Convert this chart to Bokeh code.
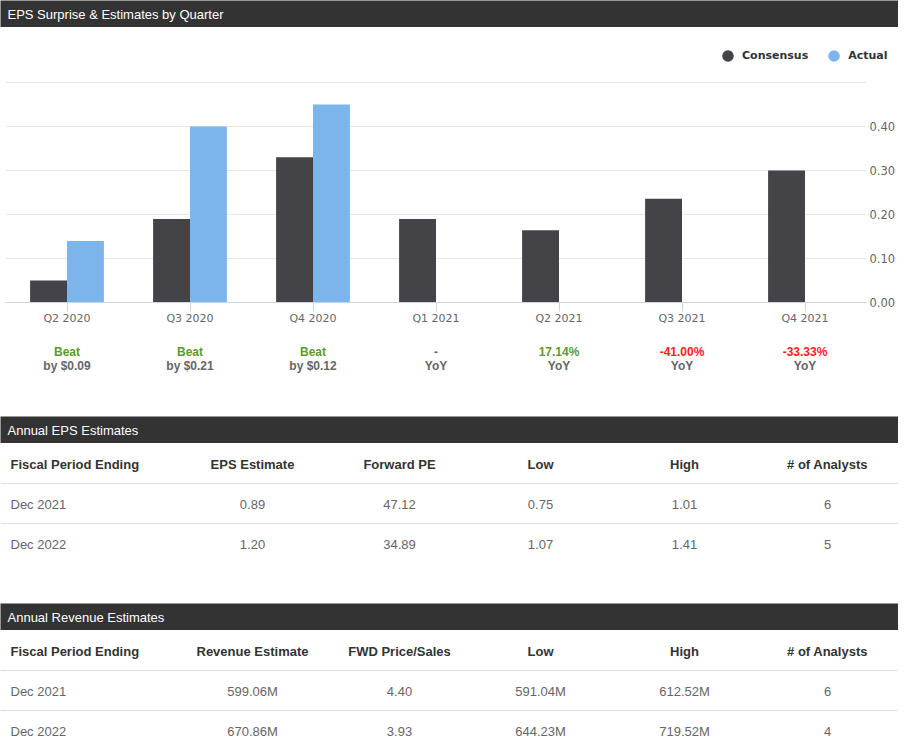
import math
from bokeh.plotting import figure
from bokeh.layouts import column
from bokeh.models import (ColumnDataSource, FactorRange, Range1d, FixedTicker,
                          NumeralTickFormatter, Legend, LegendItem)
from bokeh.transform import dodge
from bokeh.core.properties import value
from bokeh.embed import file_html
from bokeh.resources import INLINE

# ---------------- data ----------------
quarters = ["Q2 2020", "Q3 2020", "Q4 2020", "Q1 2021", "Q2 2021", "Q3 2021", "Q4 2021"]
consensus = [0.05, 0.19, 0.33, 0.19, 0.164, 0.236, 0.30]
actual = [0.14, 0.40, 0.45, float("nan"), float("nan"), float("nan"), float("nan")]
series_names = ["Consensus", "Actual"]
surprise_top = ["Beat", "Beat", "Beat", "-", "17.14%", "-41.00%", "-33.33%"]
surprise_bottom = ["by $0.09", "by $0.21", "by $0.12", "YoY", "YoY", "YoY", "YoY"]
y_ticks = [0.0, 0.1, 0.2, 0.3, 0.4]
grid_ticks = [0.1, 0.2, 0.3, 0.4, 0.5]

eps_columns = ["Fiscal Period Ending", "EPS Estimate", "Forward PE", "Low", "High", "# of Analysts"]
eps_periods = ["Dec 2021", "Dec 2022"]
eps_estimate = [0.89, 1.20]
eps_forward_pe = [47.12, 34.89]
eps_low = [0.75, 1.07]
eps_high = [1.01, 1.41]
eps_analysts = [6, 5]

rev_columns = ["Fiscal Period Ending", "Revenue Estimate", "FWD Price/Sales", "Low", "High", "# of Analysts"]
rev_periods = ["Dec 2021", "Dec 2022"]
rev_estimate = [599.06, 670.86]
rev_price_sales = [4.40, 3.93]
rev_low = [591.04, 644.23]
rev_high = [612.52, 719.52]
rev_analysts = [6, 4]

# ---------------- styling ----------------
W = 898
HEAD_BG = "#333333"
FONT_AX = "DejaVu Sans"
FONT_TXT = "Liberation Sans"
C_CONS = "#434348"
C_ACT = "#7cb5ec"
GREEN = "#5c9b29"
RED = "#ff1a1a"
GRAY = "#666666"


def header(title):
    h = figure(width=W, height=27, x_range=Range1d(0, W), y_range=Range1d(27, 0),
               toolbar_location=None, output_backend="svg",
               x_axis_location=None, y_axis_location=None,
               min_border=0, outline_line_color=None,
               background_fill_color=HEAD_BG, border_fill_color=HEAD_BG)
    h.grid.visible = False
    h.text(x=[7], y=[14], text=[title], text_color="white",
           text_font=value(FONT_TXT), text_font_size="13px",
           text_baseline="middle", text_align="left")
    return h


# ---------------- legend strip ----------------
LEG_H = 46
lg = figure(width=W, height=LEG_H, x_range=Range1d(0, W), y_range=Range1d(0, LEG_H),
            toolbar_location=None, output_backend="svg",
            x_axis_location=None, y_axis_location=None,
            min_border=0, outline_line_color=None)
lg.grid.visible = False
leg_src = ColumnDataSource(dict(x=[float("nan")], y=[float("nan")]))
d_cons = lg.scatter(x="x", y="y", source=leg_src, size=12, fill_color=C_CONS, line_color=None)
d_act = lg.scatter(x="x", y="y", source=leg_src, size=12, fill_color=C_ACT, line_color=None)
legend = Legend(items=[LegendItem(label=series_names[0], renderers=[d_cons]),
                       LegendItem(label=series_names[1], renderers=[d_act])],
                orientation="horizontal", location=(713, 3),
                padding=0, margin=0, spacing=11, glyph_width=29, glyph_height=29,
                label_standoff=0, label_height=29,
                label_text_font=FONT_AX, label_text_font_style="bold",
                label_text_font_size="11px", label_text_color="#333333",
                border_line_color=None, background_fill_alpha=0)
lg.add_layout(legend)

# ---------------- bar chart ----------------
PX_PER_UNIT = 440.0
FRAME_H = 221
src = ColumnDataSource(dict(q=quarters, consensus=consensus, actual=actual))

p = figure(width=W, height=8 + FRAME_H + 31, x_range=FactorRange(factors=quarters, range_padding=0),
           y_range=Range1d(0, FRAME_H / PX_PER_UNIT), y_axis_location="right",
           toolbar_location=None, output_backend="svg",
           min_border_left=5, min_border_right=32, min_border_top=8, min_border_bottom=31,
           outline_line_color=None, background_fill_color="white", border_fill_color="white")

p.vbar(x=dodge("q", -0.15, range=p.x_range), top="consensus", bottom=0, width=0.3,
       source=src, fill_color=C_CONS, line_color=None)
p.vbar(x=dodge("q", 0.15, range=p.x_range), top="actual", bottom=0, width=0.3,
       source=src, fill_color=C_ACT, line_color=None)

p.yaxis.ticker = FixedTicker(ticks=y_ticks)
p.yaxis.formatter = NumeralTickFormatter(format="0.00")
p.yaxis.axis_line_color = None
p.yaxis.major_tick_line_color = None
p.yaxis.minor_tick_line_color = None
p.yaxis.major_tick_out = 0
p.yaxis.major_label_standoff = 3
p.yaxis.major_label_text_font = FONT_AX
p.yaxis.major_label_text_font_size = "11.5px"
p.yaxis.major_label_text_color = GRAY

p.ygrid.ticker = FixedTicker(ticks=grid_ticks)
p.ygrid.grid_line_color = "#e6e6e6"
p.xgrid.visible = False

p.xaxis.axis_line_color = "#ccd6eb"
p.xaxis.major_tick_line_color = "#ccd6eb"
p.xaxis.major_tick_out = 9
p.xaxis.major_tick_in = 0
p.xaxis.major_label_standoff = 0
p.xaxis.major_label_text_font = FONT_AX
p.xaxis.major_label_text_font_size = "11px"
p.xaxis.major_label_text_color = GRAY

# ---------------- surprise annotations ----------------
def surprise_color(t):
    if t == "-":
        return GRAY
    if t.startswith("-"):
        return RED
    return GREEN

ann_src = ColumnDataSource(dict(q=quarters, top=surprise_top, bottom=surprise_bottom,
                                color=[surprise_color(t) for t in surprise_top]))
A_H = 83
a = figure(width=W, height=A_H, x_range=p.x_range, y_range=Range1d(A_H, 0),
           toolbar_location=None, output_backend="svg",
           x_axis_location=None, y_axis_location=None,
           min_border_left=5, min_border_right=32, min_border_top=0, min_border_bottom=0,
           outline_line_color=None)
a.grid.visible = False
a.text(x="q", y=18, text="top", text_color="color", source=ann_src,
       text_font=value(FONT_TXT), text_font_size="12px", text_font_style="bold",
       text_align="center", text_baseline="middle")
a.text(x="q", y=32, text="bottom", source=ann_src, text_color=GRAY,
       text_font=value(FONT_TXT), text_font_size="12px", text_font_style="bold",
       text_align="center", text_baseline="middle")

# ---------------- tables ----------------
COL_X = [10, 252, 399, 540, 684, 827]


def table(columns, rows, height):
    t = figure(width=W, height=height, x_range=Range1d(0, W), y_range=Range1d(height, 0),
               toolbar_location=None, output_backend="svg",
               x_axis_location=None, y_axis_location=None,
               min_border=0, outline_line_color=None)
    t.grid.visible = False
    ys = [20.5 + 40 * k for k in range(len(rows) + 1)]
    seps = [40 * (k + 1) for k in range(len(rows))]
    t.segment(x0=[0] * len(seps), x1=[W] * len(seps), y0=seps, y1=seps,
              line_color="#dddddd", line_width=1)
    t.text(x=[COL_X[0]], y=[ys[0]], text=[columns[0]], text_color="#333333",
           text_font=value(FONT_TXT), text_font_size="13px", text_font_style="bold",
           text_align="left", text_baseline="middle")
    t.text(x=COL_X[1:], y=[ys[0]] * (len(columns) - 1), text=columns[1:], text_color="#333333",
           text_font=value(FONT_TXT), text_font_size="13px", text_font_style="bold",
           text_align="center", text_baseline="middle")
    for k, row in enumerate(rows):
        y = ys[k + 1]
        t.text(x=[COL_X[0]], y=[y], text=[row[0]], text_color=GRAY,
               text_font=value(FONT_TXT), text_font_size="13px",
               text_align="left", text_baseline="middle")
        t.text(x=COL_X[1:], y=[y] * (len(row) - 1), text=row[1:], text_color=GRAY,
               text_font=value(FONT_TXT), text_font_size="13px",
               text_align="center", text_baseline="middle")
    return t


eps_rows = [[eps_periods[i], f"{eps_estimate[i]:.2f}", f"{eps_forward_pe[i]:.2f}",
             f"{eps_low[i]:.2f}", f"{eps_high[i]:.2f}", str(eps_analysts[i])]
            for i in range(len(eps_periods))]
rev_rows = [[rev_periods[i], f"{rev_estimate[i]:.2f}M", f"{rev_price_sales[i]:.2f}",
             f"{rev_low[i]:.2f}M", f"{rev_high[i]:.2f}M", str(rev_analysts[i])]
            for i in range(len(rev_periods))]

h1 = header("EPS Surprise & Estimates by Quarter")
h2 = header("Annual EPS Estimates")
t1 = table(eps_columns, eps_rows, 160)
h3 = header("Annual Revenue Estimates")
t2 = table(rev_columns, rev_rows, 108)

chart_block = column(p, a, spacing=0)
layout = column(h1, lg, chart_block, h2, t1, h3, t2, spacing=0)

open("out.html", "w").write(file_html(layout, INLINE))
